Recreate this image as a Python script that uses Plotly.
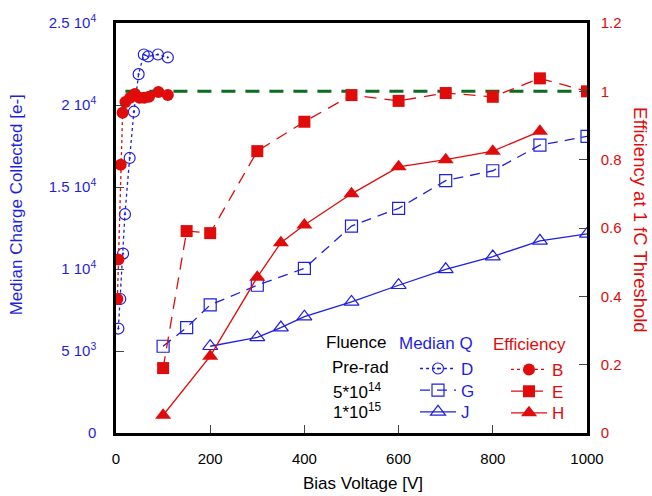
import plotly.graph_objects as go

# ---- data ----
# Median charge (left axis)
d_x = [5, 9, 15, 19, 29, 38, 48, 59, 68, 89, 110]
d_y = [6370, 8170, 10940, 13340, 16770, 19590, 21880, 23080, 22960, 23080, 22900]
g_x = [100, 150, 200, 300, 400, 500, 600, 700, 800, 900, 1000]
g_y = [5290, 6430, 7810, 9010, 10040, 12620, 13700, 15390, 15990, 17550, 18090]
j_x = [200, 300, 350, 400, 500, 600, 700, 800, 900, 1000]
j_y = [5290, 5830, 6430, 7090, 7990, 9010, 9980, 10760, 11720, 12140]
# Efficiency (right axis)
b_x = [3, 5, 10, 14, 20, 30, 40, 50, 60, 70, 90, 110]
b_y = [0.392, 0.508, 0.785, 0.937, 0.969, 0.981, 0.992, 0.981, 0.981, 0.984, 0.998, 0.989]
e_x = [100, 150, 200, 300, 400, 500, 600, 700, 800, 900, 1000]
e_y = [0.19, 0.591, 0.585, 0.825, 0.911, 0.989, 0.972, 0.995, 0.984, 1.038, 1.0]
h_x = [100, 200, 300, 350, 400, 500, 600, 700, 800, 900]
h_y = [0.052, 0.225, 0.456, 0.557, 0.609, 0.70, 0.779, 0.80, 0.825, 0.883]
ref_x = [20, 1000]
ref_y = [1.0, 1.0]

x_ticks = [0, 200, 400, 600, 800, 1000]
q_ticks = [0, 5000, 10000, 15000, 20000, 25000]
q_ticktext = ["0", "5 10<sup>3</sup>", "1 10<sup>4</sup>", "1.5 10<sup>4</sup>",
              "2 10<sup>4</sup>", "2.5 10<sup>4</sup>"]
eff_ticks = [0, 0.2, 0.4, 0.6, 0.8, 1.0, 1.2]
eff_ticktext = ["0", "0.2", "0.4", "0.6", "0.8", "1", "1.2"]

BLUE = "#1f1fe0"
RED = "#e00b0b"
GREEN = "#0b6b1e"
FONT = "Arial, Liberation Sans, sans-serif"

W, H = 652, 496
L, R, T, B = 116, 587, 17, 433


def px(xp):
    return (xp - L) / (R - L)


def py(yp):
    return (B - yp) / (B - T)


fig = go.Figure()

fig.add_trace(go.Scatter(x=ref_x, y=ref_y, yaxis="y2", mode="lines",
                         line=dict(color=GREEN, width=3, dash="14px,10px"),
                         showlegend=False, hoverinfo="skip"))

fig.add_trace(go.Scatter(x=d_x, y=d_y, mode="lines+markers", name="D", legend="legend",
                         line=dict(color=BLUE, width=1.3, dash="dot"),
                         marker=dict(symbol="circle-open-dot", size=11, color=BLUE,
                                     line=dict(width=1.2, color=BLUE))))
fig.add_trace(go.Scatter(x=g_x, y=g_y, mode="lines+markers", name="G", legend="legend2",
                         line=dict(color=BLUE, width=1.3, dash="10px,7px"),
                         marker=dict(symbol="square-open", size=12, color=BLUE,
                                     line=dict(width=1.2, color=BLUE))))
fig.add_trace(go.Scatter(x=j_x, y=j_y, mode="lines+markers", name="J", legend="legend3",
                         line=dict(color=BLUE, width=1.3),
                         marker=dict(symbol="triangle-up-open", size=13, color=BLUE,
                                     line=dict(width=1.2, color=BLUE))))
fig.add_trace(go.Scatter(x=b_x, y=b_y, yaxis="y2", mode="lines+markers", name="B", legend="legend4",
                         line=dict(color=RED, width=1.3, dash="dot"),
                         marker=dict(symbol="circle", size=12, color=RED)))
fig.add_trace(go.Scatter(x=e_x, y=e_y, yaxis="y2", mode="lines+markers", name="E", legend="legend5",
                         line=dict(color=RED, width=1.3, dash="12px,8px"),
                         marker=dict(symbol="square", size=12, color=RED)))
fig.add_trace(go.Scatter(x=h_x, y=h_y, yaxis="y2", mode="lines+markers", name="H", legend="legend6",
                         line=dict(color=RED, width=1.3),
                         marker=dict(symbol="triangle-up", size=14, color=RED)))


def leg(xp, yp, color):
    return dict(x=px(xp), y=py(yp), xanchor="left", yanchor="middle",
                bgcolor="rgba(0,0,0,0)", itemwidth=36,
                font=dict(family=FONT, size=17, color=color))


layout_legends = {
    "legend": leg(415, 368, BLUE),
    "legend2": leg(415, 390, BLUE),
    "legend3": leg(415, 412, BLUE),
    "legend4": leg(506, 369, RED),
    "legend5": leg(506, 391, RED),
    "legend6": leg(506, 413, RED),
}

annotations = [
    dict(text="Median Charge Collected [e-]", x=px(16), y=py(202), textangle=-90,
         font=dict(size=17, color=BLUE)),
    dict(text="Efficiency at 1 fC Threshold", x=px(641), y=py(217), textangle=90,
         font=dict(size=18.5, color=RED)),
    dict(text="Bias Voltage [V]", x=px(363), y=py(484), font=dict(size=17, color="black")),
    dict(text="Fluence", x=px(356), y=py(341), font=dict(size=17, color="black")),
    dict(text="Median Q", x=px(436), y=py(342), font=dict(size=17, color=BLUE)),
    dict(text="Efficiency", x=px(529), y=py(343), font=dict(size=17, color=RED)),
    dict(text="Pre-rad", x=px(360), y=py(367), font=dict(size=17, color="black")),
    dict(text="5*10<sup>14</sup>", x=px(357), y=py(390), font=dict(size=17, color="black")),
    dict(text="1*10<sup>15</sup>", x=px(357), y=py(411), font=dict(size=17, color="black")),
]
for a in annotations:
    a.update(xref="paper", yref="paper", showarrow=False, xanchor="center", yanchor="middle")
    a["font"]["family"] = FONT

fig.update_layout(
    width=W, height=H,
    margin=dict(l=L, r=W - R, t=T, b=H - B),
    paper_bgcolor="white", plot_bgcolor="white",
    font=dict(family=FONT, size=15, color="black"),
    showlegend=True,
    annotations=annotations,
    xaxis=dict(range=[0, 1000], tickvals=x_ticks, ticks="inside", ticklen=8,
               tickcolor="#444", tickwidth=1, showline=True, linewidth=2.5,
               linecolor="black", mirror=True, showgrid=False, zeroline=False,
               tickfont=dict(size=15, color="black"), ticklabelstandoff=10),
    yaxis=dict(range=[0, 25000], tickvals=q_ticks, ticktext=q_ticktext,
               ticks="inside", ticklen=8, tickcolor="#444", tickwidth=1,
               showline=True, linewidth=2.5, linecolor="black", showgrid=False,
               zeroline=False, tickfont=dict(size=15, color=BLUE),
               ticklabelstandoff=14),
    yaxis2=dict(range=[0, 1.2], tickvals=eff_ticks, ticktext=eff_ticktext,
                overlaying="y", side="right", ticks="inside", ticklen=8,
                tickcolor="#444", tickwidth=1, showline=True, linewidth=2.5,
                linecolor="black", showgrid=False, zeroline=False,
                tickfont=dict(size=15, color=RED), ticklabelstandoff=8),
    **layout_legends,
)

fig.write_html("out.html")
